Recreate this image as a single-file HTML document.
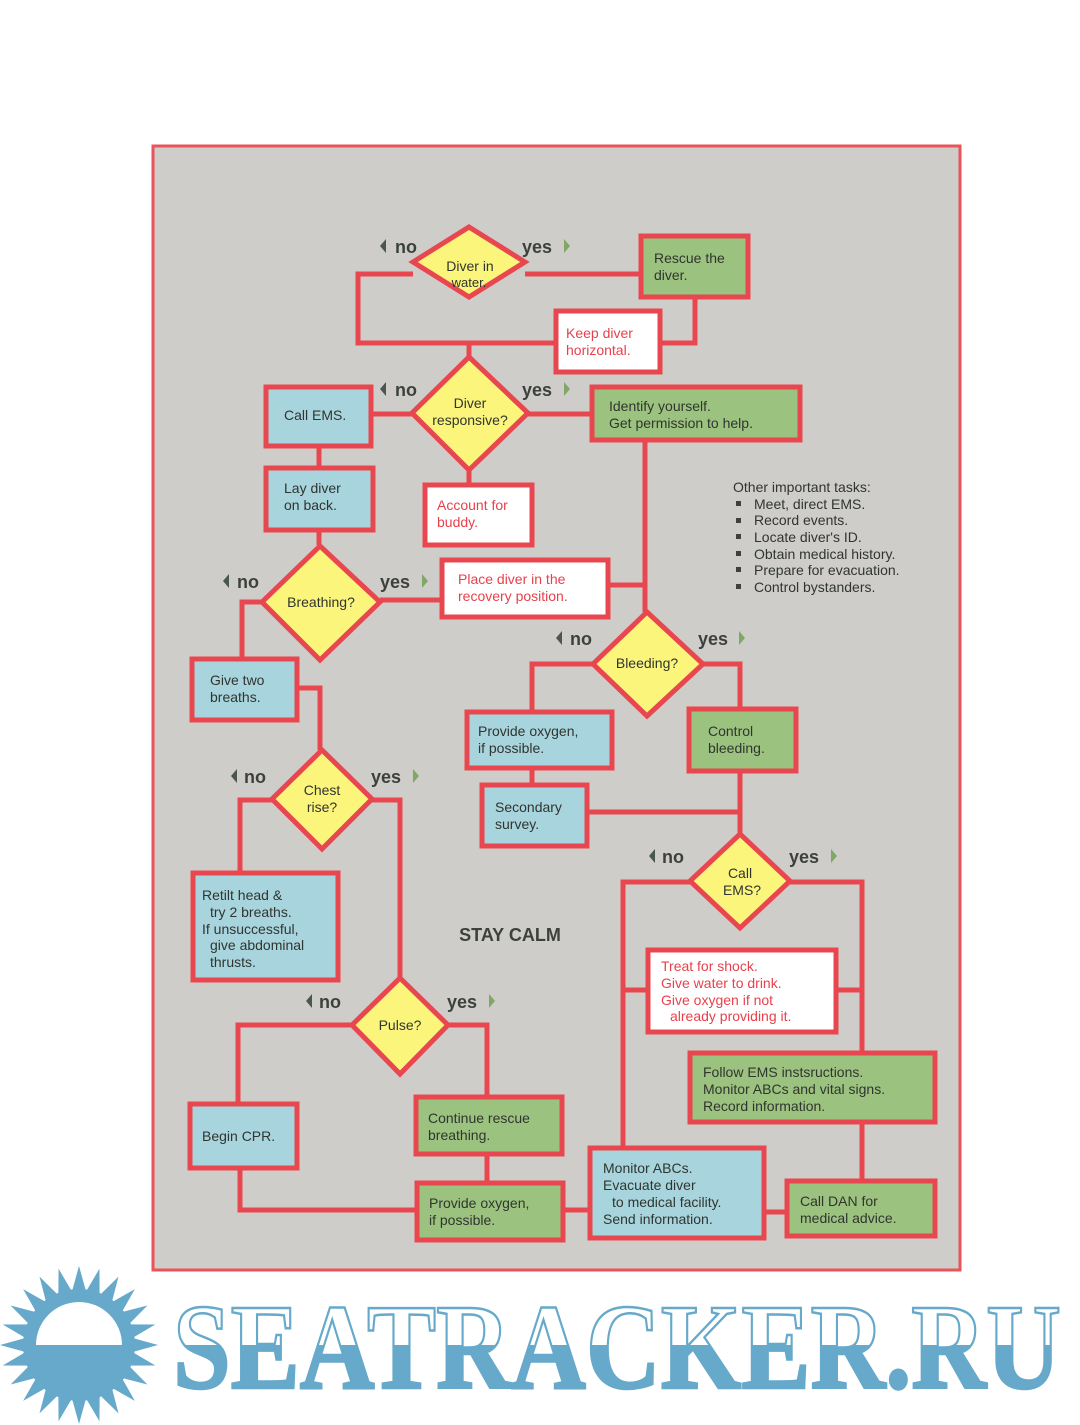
<!DOCTYPE html>
<html><head><meta charset="utf-8"><style>
html,body{margin:0;padding:0;background:#fff;}
svg{display:block}
text{font-family:"Liberation Sans",sans-serif;}
.t{font-size:14px;fill:#30352f;}
.r{font-size:14px;fill:#e8414c;}
.lab{font-size:18px;fill:#3c413d;font-weight:bold;}
</style></head><body>
<svg width="1080" height="1425" viewBox="0 0 1080 1425" xmlns="http://www.w3.org/2000/svg">
<rect x="0" y="0" width="1080" height="1425" fill="#fff"/>
<rect x="153" y="146" width="807" height="1124" fill="#cfcdca" stroke="#e9535a" stroke-width="3"/>

<g fill="none" stroke="#e8474f" stroke-width="5" stroke-linejoin="miter">
<polyline points="413,274 358,274 358,343 556,343"/>
<line x1="525" y1="274" x2="641" y2="274"/>
<polyline points="660,343 695,343 695,297"/>
<line x1="469" y1="343" x2="469" y2="357"/>
<line x1="412" y1="414" x2="371" y2="414"/>
<line x1="528" y1="414" x2="592" y2="414"/>
<line x1="469" y1="470" x2="469" y2="485"/>
<line x1="319" y1="446" x2="319" y2="468"/>
<line x1="319" y1="530" x2="319" y2="545"/>
<line x1="380" y1="600" x2="442" y2="600"/>
<polyline points="608,585 645,585"/>
<line x1="645" y1="440" x2="645" y2="612"/>
<polyline points="262,602 242,602 242,659"/>
<polyline points="297,688 320,688 320,750"/>
<polyline points="593,664 532,664 532,712"/>
<polyline points="703,664 740,664 740,709"/>
<line x1="532" y1="768" x2="532" y2="785"/>
<polyline points="740,771 740,834"/>
<line x1="587" y1="812" x2="740" y2="812"/>
<polyline points="272,800 240,800 240,873"/>
<polyline points="372,800 400,800 400,978"/>
<polyline points="352,1025 238,1025 238,1104"/>
<polyline points="448,1025 487,1025 487,1097"/>
<polyline points="240,1168 240,1210 417,1210"/>
<line x1="487" y1="1154" x2="487" y2="1183"/>
<line x1="563" y1="1210" x2="590" y2="1210"/>
<polyline points="690,882 623,882 623,1148"/>
<polyline points="790,882 862,882 862,1053"/>
<line x1="623" y1="990" x2="648" y2="990"/>
<line x1="836" y1="990" x2="862" y2="990"/>
<line x1="862" y1="1122" x2="862" y2="1181"/>
<line x1="764" y1="1212" x2="787" y2="1212"/>
</g>

<g stroke="#e8474f" stroke-width="5">
<polygon points="469,227 525,262 469,297 413,262" fill="#fbf57c"/>
<polygon points="469,357 528,413 469,470 412,413" fill="#fbf57c"/>
<polygon points="320,546 380,602 320,660 262,602" fill="#fbf57c"/>
<polygon points="647,612 703,664 647,716 593,664" fill="#fbf57c"/>
<polygon points="740,834 790,881 740,928 690,881" fill="#fbf57c"/>
<polygon points="322,750 372,799 322,849 272,799" fill="#fbf57c"/>
<polygon points="400,978 448,1025 400,1074 352,1025" fill="#fbf57c"/>
<rect x="641" y="236" width="107" height="61" fill="#9cc27f"/>
<rect x="556" y="311" width="104" height="61" fill="#fff"/>
<rect x="266" y="387" width="105" height="59" fill="#a8d4dd"/>
<rect x="592" y="387" width="208" height="53" fill="#9cc27f"/>
<rect x="425" y="485" width="107" height="60" fill="#fff"/>
<rect x="266" y="468" width="107" height="62" fill="#a8d4dd"/>
<rect x="442" y="560" width="166" height="57" fill="#fff"/>
<rect x="192" y="659" width="105" height="61" fill="#a8d4dd"/>
<rect x="467" y="712" width="145" height="56" fill="#a8d4dd"/>
<rect x="689" y="709" width="107" height="62" fill="#9cc27f"/>
<rect x="482" y="785" width="105" height="61" fill="#a8d4dd"/>
<rect x="193" y="873" width="145" height="107" fill="#a8d4dd"/>
<rect x="648" y="950" width="188" height="82" fill="#fff"/>
<rect x="690" y="1053" width="245" height="69" fill="#9cc27f"/>
<rect x="190" y="1104" width="107" height="64" fill="#a8d4dd"/>
<rect x="416" y="1097" width="146" height="57" fill="#9cc27f"/>
<rect x="417" y="1183" width="146" height="57" fill="#9cc27f"/>
<rect x="590" y="1148" width="174" height="90" fill="#a8d4dd"/>
<rect x="787" y="1181" width="148" height="55" fill="#9cc27f"/>
</g>

<g class="t">
<text x="470" y="271" text-anchor="middle" class="t">Diver in</text>
<text x="469" y="287" text-anchor="middle" class="t" style="font-size:13px">water.</text>
<text x="654" y="263" class="t">Rescue the</text>
<text x="654" y="280" class="t">diver.</text>
<text x="470" y="408" text-anchor="middle" class="t">Diver</text>
<text x="470" y="425" text-anchor="middle" class="t">responsive?</text>
<text x="284" y="420" class="t">Call EMS.</text>
<text x="609" y="411" class="t">Identify yourself.</text>
<text x="609" y="428" class="t">Get permission to help.</text>
<text x="284" y="493" class="t">Lay diver</text>
<text x="284" y="510" class="t">on back.</text>
<text x="321" y="607" text-anchor="middle" class="t">Breathing?</text>
<text x="210" y="685" class="t">Give two</text>
<text x="210" y="702" class="t">breaths.</text>
<text x="647" y="668" text-anchor="middle" class="t">Bleeding?</text>
<text x="478" y="736" class="t">Provide oxygen,</text>
<text x="478" y="753" class="t">if possible.</text>
<text x="708" y="736" class="t">Control</text>
<text x="708" y="753" class="t">bleeding.</text>
<text x="495" y="812" class="t">Secondary</text>
<text x="495" y="829" class="t">survey.</text>
<text x="322" y="795" text-anchor="middle" class="t">Chest</text>
<text x="322" y="812" text-anchor="middle" class="t">rise?</text>
<text x="202" y="900" class="t">Retilt head &amp;</text>
<text x="210" y="917" class="t">try 2 breaths.</text>
<text x="202" y="934" class="t">If unsuccessful,</text>
<text x="210" y="950" class="t">give abdominal</text>
<text x="210" y="967" class="t">thrusts.</text>
<text x="740" y="878" text-anchor="middle" class="t">Call</text>
<text x="742" y="895" text-anchor="middle" class="t">EMS?</text>
<text x="400" y="1030" text-anchor="middle" class="t">Pulse?</text>
<text x="703" y="1077" class="t">Follow EMS instsructions.</text>
<text x="703" y="1094" class="t">Monitor ABCs and vital signs.</text>
<text x="703" y="1111" class="t">Record information.</text>
<text x="202" y="1141" class="t">Begin CPR.</text>
<text x="428" y="1123" class="t">Continue rescue</text>
<text x="428" y="1140" class="t">breathing.</text>
<text x="429" y="1208" class="t">Provide oxygen,</text>
<text x="429" y="1225" class="t">if possible.</text>
<text x="603" y="1173" class="t">Monitor ABCs.</text>
<text x="603" y="1190" class="t">Evacuate diver</text>
<text x="612" y="1207" class="t">to medical facility.</text>
<text x="603" y="1224" class="t">Send information.</text>
<text x="800" y="1206" class="t">Call DAN for</text>
<text x="800" y="1223" class="t">medical advice.</text>
</g>
<g>
<text x="566" y="338" class="r">Keep diver</text>
<text x="566" y="355" class="r">horizontal.</text>
<text x="437" y="510" class="r">Account for</text>
<text x="437" y="527" class="r">buddy.</text>
<text x="458" y="584" class="r">Place diver in the</text>
<text x="458" y="601" class="r">recovery position.</text>
<text x="661" y="971" class="r">Treat for shock.</text>
<text x="661" y="988" class="r">Give water to drink.</text>
<text x="661" y="1005" class="r">Give oxygen if not</text>
<text x="670" y="1021" class="r">already providing it.</text>
</g>

<g class="t">
<text x="733" y="492" class="t">Other important tasks:</text>
<text x="754" y="509" class="t">Meet, direct EMS.</text>
<text x="754" y="525" class="t">Record events.</text>
<text x="754" y="542" class="t">Locate diver's ID.</text>
<text x="754" y="559" class="t">Obtain medical history.</text>
<text x="754" y="575" class="t">Prepare for evacuation.</text>
<text x="754" y="592" class="t">Control bystanders.</text>
</g>
<g fill="#3c413d">
<rect x="736" y="501" width="5" height="5"/><rect x="736" y="518" width="5" height="5"/>
<rect x="736" y="534" width="5" height="5"/><rect x="736" y="551" width="5" height="5"/>
<rect x="736" y="567" width="5" height="5"/><rect x="736" y="584" width="5" height="5"/>
</g>
<text x="510" y="941" text-anchor="middle" style="font-size:18px;fill:#3c413d;font-weight:bold">STAY CALM</text>

<g class="lab">
<text x="395" y="253" class="lab">no</text><text x="522" y="253" class="lab">yes</text>
<text x="395" y="396" class="lab">no</text><text x="522" y="396" class="lab">yes</text>
<text x="237" y="588" class="lab">no</text><text x="380" y="588" class="lab">yes</text>
<text x="570" y="645" class="lab">no</text><text x="698" y="645" class="lab">yes</text>
<text x="244" y="783" class="lab">no</text><text x="371" y="783" class="lab">yes</text>
<text x="662" y="863" class="lab">no</text><text x="789" y="863" class="lab">yes</text>
<text x="319" y="1008" class="lab">no</text><text x="447" y="1008" class="lab">yes</text>
</g>
<g fill="#4a5650">
<path d="M386,239 l-6,7 l6,7 z"/><path d="M386,382 l-6,7 l6,7 z"/>
<path d="M229,574 l-6,7 l6,7 z"/><path d="M562,631 l-6,7 l6,7 z"/>
<path d="M237,769 l-6,7 l6,7 z"/><path d="M655,849 l-6,7 l6,7 z"/>
<path d="M312,994 l-6,7 l6,7 z"/>
</g>
<g fill="#7fa867">
<path d="M564,239 l6,7 l-6,7 z"/><path d="M564,382 l6,7 l-6,7 z"/>
<path d="M422,574 l6,7 l-6,7 z"/><path d="M739,631 l6,7 l-6,7 z"/>
<path d="M413,769 l6,7 l-6,7 z"/><path d="M831,849 l6,7 l-6,7 z"/>
<path d="M489,994 l6,7 l-6,7 z"/>
</g>

<defs>
<polygon id="sp" points="-8,-50 0,-79 8,-50"/>
<linearGradient id="lg" gradientUnits="userSpaceOnUse" x1="0" y1="1300" x2="0" y2="1390">
<stop offset="0" stop-color="#fff"/><stop offset="0.5" stop-color="#fff"/>
<stop offset="0.5" stop-color="#66a9cb"/><stop offset="1" stop-color="#66a9cb"/>
</linearGradient>
</defs>
<g transform="translate(79,1345)" fill="#66a9cb">
<circle r="56"/>
<use href="#sp" transform="rotate(0)"/><use href="#sp" transform="rotate(15)"/>
<use href="#sp" transform="rotate(30)"/><use href="#sp" transform="rotate(45)"/>
<use href="#sp" transform="rotate(60)"/><use href="#sp" transform="rotate(75)"/>
<use href="#sp" transform="rotate(90)"/><use href="#sp" transform="rotate(105)"/>
<use href="#sp" transform="rotate(120)"/><use href="#sp" transform="rotate(135)"/>
<use href="#sp" transform="rotate(150)"/><use href="#sp" transform="rotate(165)"/>
<use href="#sp" transform="rotate(180)"/><use href="#sp" transform="rotate(195)"/>
<use href="#sp" transform="rotate(210)"/><use href="#sp" transform="rotate(225)"/>
<use href="#sp" transform="rotate(240)"/><use href="#sp" transform="rotate(255)"/>
<use href="#sp" transform="rotate(270)"/><use href="#sp" transform="rotate(285)"/>
<use href="#sp" transform="rotate(300)"/><use href="#sp" transform="rotate(315)"/>
<use href="#sp" transform="rotate(330)"/><use href="#sp" transform="rotate(345)"/>
<path d="M-43,0 A43,43 0 0 1 43,0 Z" fill="#fff"/>
</g>
<text x="173" y="1388" textLength="888" lengthAdjust="spacingAndGlyphs" style="font-family:'Liberation Serif',serif;font-weight:bold;font-size:122px;fill:url(#lg);stroke:#66a9cb;stroke-width:2.5">SEATRACKER.RU</text>
</svg>
</body></html>
